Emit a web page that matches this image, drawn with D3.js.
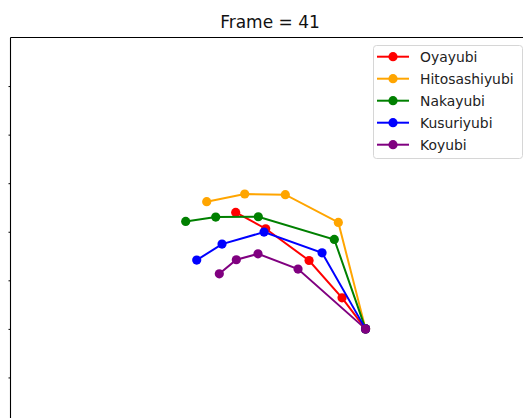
<!DOCTYPE html>
<html>
<head>
<meta charset="utf-8">
<script src="https://cdn.jsdelivr.net/npm/d3@7"></script>
<style>
  body { margin: 0; background: #fff; }
  svg { display: block; font-family: "DejaVu Sans", sans-serif; }
</style>
</head>
<body>
<svg id="drawing_region"></svg>
<script>
// finger names and colours (legend order)
const fingers = [ "Oyayubi", "Hitosashiyubi", "Nakayubi", "Kusuriyubi", "Koyubi" ];
const colors = [ "red", "orange", "green", "blue", "purple" ];

// landmark coordinates, wrist first then towards the tip
const oyayubi_x = [ 0.732, 0.6835, 0.6155, 0.5262, 0.4643 ];
const oyayubi_y = [ 0.800, 0.7361, 0.6592, 0.5938, 0.5602 ];
const hitosashiyubi_x = [ 0.732, 0.6759, 0.5666, 0.4829, 0.4045 ];
const hitosashiyubi_y = [ 0.800, 0.5808, 0.5237, 0.5223, 0.5381 ];
const nakayubi_x = [ 0.732, 0.6676, 0.5109, 0.4231, 0.3612 ];
const nakayubi_y = [ 0.800, 0.6159, 0.5691, 0.5697, 0.5788 ];
const kusuriyubi_x = [ 0.732, 0.6423, 0.5227, 0.4361, 0.3839 ];
const kusuriyubi_y = [ 0.800, 0.6433, 0.6006, 0.6254, 0.6584 ];
const koyubi_x = [ 0.732, 0.5928, 0.5103, 0.4656, 0.4305 ];
const koyubi_y = [ 0.800, 0.6769, 0.6454, 0.6577, 0.6866 ];

const y_ticks = [ 0.3, 0.4, 0.5, 0.6, 0.7, 0.8, 0.9 ];
const frame_no = 41;

const xs = [ oyayubi_x, hitosashiyubi_x, nakayubi_x, kusuriyubi_x, koyubi_x ];
const ys = [ oyayubi_y, hitosashiyubi_y, nakayubi_y, kusuriyubi_y, koyubi_y ];

const width = 523, height = 418;
const margin = { top: 37.5, left: 10.5 };
const plot_right = 529.5, plot_bottom = 426;

const svg = d3.select( "#drawing_region" )
    .attr( "width", width )
    .attr( "height", height );

const xscale = d3.scaleLinear()
    .domain( [ 0, 1.07 ] )
    .range( [ margin.left, plot_right ] );

const yscale = d3.scaleLinear()
    .domain( [ 0.2, 1.0 ] )
    .range( [ margin.top, plot_bottom ] );

// title
svg.append( "text" )
    .attr( "x", ( margin.left + plot_right ) / 2 )
    .attr( "y", 28 )
    .attr( "text-anchor", "middle" )
    .attr( "font-size", 17 )
    .attr( "fill", "#111" )
    .text( `Frame = ${frame_no}` );

// finger lines
fingers.forEach( ( name, i ) => {
    const pts = xs[i].map( ( x, j ) => [ x, ys[i][j] ] );
    const g = svg.append( "g" );
    g.append( "path" )
        .datum( pts )
        .attr( "fill", "none" )
        .attr( "stroke", colors[i] )
        .attr( "stroke-width", 2 )
        .attr( "d", d3.line().x( d => xscale( d[0] ) ).y( d => yscale( d[1] ) ) );
    g.selectAll( "circle" )
        .data( pts )
        .join( "circle" )
        .attr( "cx", d => xscale( d[0] ) )
        .attr( "cy", d => yscale( d[1] ) )
        .attr( "r", 4.6 )
        .attr( "fill", colors[i] );
} );

// axes
const yaxis = d3.axisLeft( yscale )
    .tickValues( y_ticks )
    .tickSize( 2 )
    .tickFormat( "" )
    .tickSizeOuter( 0 );

svg.append( "g" )
    .attr( "transform", `translate(${margin.left}, 0)` )
    .call( yaxis )
    .call( g => g.select( ".domain" ).remove() );

svg.append( "line" )
    .attr( "x1", margin.left ).attr( "x2", margin.left )
    .attr( "y1", margin.top ).attr( "y2", height )
    .attr( "stroke", "#000" ).attr( "stroke-width", 1.1 );

svg.append( "line" )
    .attr( "x1", margin.left ).attr( "x2", width )
    .attr( "y1", margin.top ).attr( "y2", margin.top )
    .attr( "stroke", "#000" ).attr( "stroke-width", 1.1 );

// legend
const legend = svg.append( "g" );
legend.append( "rect" )
    .attr( "x", 373.5 ).attr( "y", 45.5 )
    .attr( "width", 149 ).attr( "height", 113 )
    .attr( "rx", 3 )
    .attr( "fill", "#fff" ).attr( "fill-opacity", 0.8 )
    .attr( "stroke", "#d6d6d6" );

fingers.forEach( ( name, i ) => {
    const y = 56.7 + i * 22;
    legend.append( "line" )
        .attr( "x1", 377 ).attr( "x2", 409 )
        .attr( "y1", y ).attr( "y2", y )
        .attr( "stroke", colors[i] ).attr( "stroke-width", 2 );
    legend.append( "circle" )
        .attr( "cx", 393 ).attr( "cy", y ).attr( "r", 4.6 )
        .attr( "fill", colors[i] );
    legend.append( "text" )
        .attr( "x", 420 ).attr( "y", y + 5 )
        .attr( "font-size", 13.9 )
        .attr( "fill", "#222" )
        .text( name );
} );
</script>
</body>
</html>
